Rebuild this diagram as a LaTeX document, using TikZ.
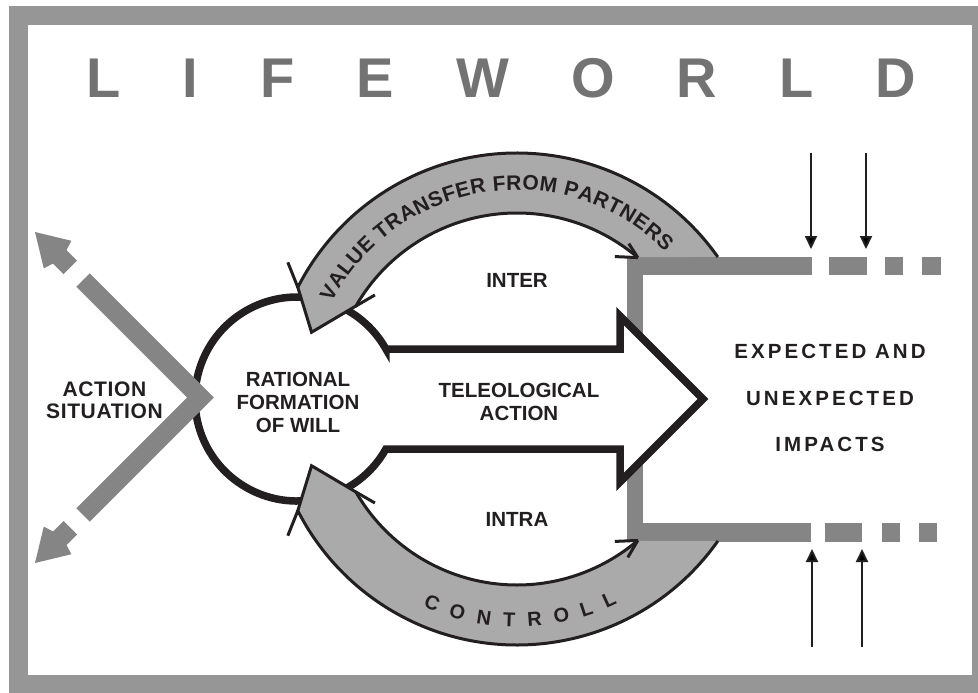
\documentclass[tikz,border=0pt]{standalone}
\usepackage{fontspec}
\setmainfont{Liberation Sans}
\usetikzlibrary{arrows.meta,calc,decorations.text}
\definecolor{ink}{HTML}{231F20}
\definecolor{framegray}{RGB}{150,150,150}
\definecolor{bargray}{RGB}{133,133,133}
\definecolor{bandgray}{RGB}{170,170,170}
\definecolor{titlegray}{RGB}{115,115,115}
\newcommand\bandfont{\bfseries\fontsize{21}{21}\selectfont}
\newcommand\ctrlfont{\bfseries\fontsize{20}{20}\selectfont}
\begin{document}
\begin{tikzpicture}[x=1pt,y=-1pt,
  lbl/.style={font=\bfseries\fontsize{20.5}{22.5}\selectfont, text=ink, align=center, inner sep=0},
  bar/.style={fill=bargray},
  bandfill/.style={fill=bandgray},
  bandline/.style={draw=ink, line width=3pt, line join=miter},
  keyline/.style={draw=ink, fill=white, line width=7.5pt, line join=miter},
  varrow/.style={draw=ink, line width=2pt, -{Triangle[length=13pt,width=12pt]}},
  chev/.style={draw=bargray, line width=19pt, line join=miter},
]
\useasboundingbox (0,0) rectangle (978,693);
% frame
\fill[framegray] (9,6) rectangle (978,693);
\fill[white] (28,25) rectangle (972,675);
% title
\node[anchor=base west, inner sep=0, text=titlegray,
  font=\bfseries\fontsize{56}{56}\selectfont\addfontfeature{LetterSpace=111}] (title) at (86,98) {LIFEWORLD};
% bracket
\fill[bar] (627,257) rectangle (812,275);
\fill[bar] (829,257) rectangle (867,275);
\fill[bar] (885,257) rectangle (903,275);
\fill[bar] (922,257) rectangle (941,275);
\fill[bar] (627,257) rectangle (643,542);
\fill[bar] (627,523) rectangle (811,542);
\fill[bar] (825,523) rectangle (862,542);
\fill[bar] (882,523) rectangle (900,542);
\fill[bar] (919,523) rectangle (937,542);
% keyhole: circle + teleological arrow
\draw[keyline] (385.9,349) -- (620,349) -- (620,316) -- (703,399) -- (620,482) -- (620,449) -- (385.9,449)
  arc[start angle=29.35, end angle=330.65, radius=102] -- cycle;
% bands
\coordinate (O) at (517,399);
% top band
\fill[bandfill] ($(O)+(-153:246)$) arc[start angle=-153, end angle=-35.26, radius=246]
  -- ($(O)+(-49.77:186)$) arc[start angle=-49.77, end angle=-150, radius=186]
  -- ($(O)+(-162:216)$) -- cycle;
\draw[bandline] ($(O)+(-35.26:246)$) arc[start angle=-35.26, end angle=-153, radius=246]
  -- ($(O)+(-162:216)$) -- ($(O)+(-150:186)$) arc[start angle=-150, end angle=-49.5, radius=186];
\coordinate (tA) at ($(O)+(-49.5:186)$);
\coordinate (tO) at ($(O)+(-153:246)$);
\coordinate (tI) at ($(O)+(-150:186)$);
\draw[bandline] (tA) -- ++(-23,-1);
\draw[bandline] (tA) -- ++(-9,-14);
\draw[bandline] (tO) -- ++(-10,-25);
\draw[bandline] (tI) -- ++(19,-11);
\path[decorate, decoration={text along path, text color=ink,
   text={|\bandfont|VALUE TRANSFER FROM PARTNERS}, text align={fit to path}}]
  ($(O)+(-152.5:209)$) arc[start angle=-152.5, end angle=-44.8, radius=209];
% bottom band
\fill[bandfill] ($(O)+(153:246)$) arc[start angle=153, end angle=35.26, radius=246]
  -- ($(O)+(49.77:186)$) arc[start angle=49.77, end angle=150, radius=186]
  -- ($(O)+(162:216)$) -- cycle;
\draw[bandline] ($(O)+(35.26:246)$) arc[start angle=35.26, end angle=153, radius=246]
  -- ($(O)+(162:216)$) -- ($(O)+(150:186)$) arc[start angle=150, end angle=49.5, radius=186];
\coordinate (bA) at ($(O)+(49.5:186)$);
\coordinate (bO) at ($(O)+(153:246)$);
\coordinate (bI) at ($(O)+(150:186)$);
\draw[bandline] (bA) -- ++(-23,1);
\draw[bandline] (bA) -- ++(-10,17);
\draw[bandline] (bO) -- ++(-10,25);
\draw[bandline] (bI) -- ++(19,11);
\path[decorate, decoration={text along path, text color=ink,
   text={|\ctrlfont|CONTROLL}, text align={fit to path}}]
  ($(O)+(114.4:228)$) arc[start angle=114.4, end angle=63.9, radius=228];
% action situation chevron
\draw[chev] (83.1,280.1) -- (200.5,397.5) -- (83.1,514.9);
\fill[bargray] (35,232) -- (71.4,240.8) -- (66.5,250.0) -- (77.1,260.6) -- (63.6,274.1) -- (53.0,263.5) -- (43.8,268.4) -- cycle;
\fill[bargray] (35,563) -- (71.4,554.2) -- (66.5,545.0) -- (77.1,534.4) -- (63.6,520.9) -- (53.0,531.5) -- (43.8,526.6) -- cycle;
% vertical arrows
\coordinate (u1s) at (811,153); \coordinate (u1e) at (811,249);
\coordinate (u2s) at (866,153); \coordinate (u2e) at (866,249);
\coordinate (d1s) at (812,647); \coordinate (d1e) at (812,549);
\coordinate (d2s) at (862,647); \coordinate (d2e) at (862,549);
\draw[varrow] (u1s) -- (u1e);
\draw[varrow] (u2s) -- (u2e);
\draw[varrow] (d1s) -- (d1e);
\draw[varrow] (d2s) -- (d2e);
% labels
\node[lbl] (inter) at (517,280) {INTER};
\node[lbl] (intra) at (517,519.5) {INTRA};
\node[lbl, font=\bfseries\fontsize{20.5}{23}\selectfont] (will) at (298,402.5) {RATIONAL\\FORMATION\\OF WILL};
\node[lbl] (tele) at (519,402) {TELEOLOGICAL\\ACTION};
\node[lbl, font=\bfseries\fontsize{21}{22}\selectfont\addfontfeature{LetterSpace=3}] (act) at (104.5,400.5) {ACTION\\SITUATION};
\node[lbl, font=\bfseries\fontsize{20.5}{46.5}\selectfont\addfontfeature{LetterSpace=15}] (imp) at (830,398) {EXPECTED AND\\UNEXPECTED\\IMPACTS};
\end{tikzpicture}
\end{document}
